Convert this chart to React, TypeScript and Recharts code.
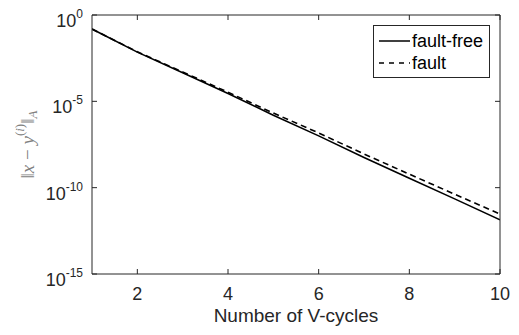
import React from 'react';
import { LineChart, Line, XAxis, YAxis, Legend } from 'recharts';

// Number of V-cycles vs. A-norm of the error
const cycles = [1, 2, 3, 4, 5, 6, 7, 8, 9, 10];
const faultFreeErr = [1.55e-1, 7.08e-3, 4.47e-4, 2.82e-5, 1.58e-6, 1.0e-7, 5.62e-9, 3.55e-10, 2.24e-11, 1.38e-12];
const faultErr = [1.55e-1, 7.41e-3, 5.01e-4, 3.39e-5, 2.09e-6, 1.48e-7, 8.91e-9, 6.03e-10, 4.17e-11, 2.95e-12];

const xTicks = [2, 4, 6, 8, 10];
const yTicks = [1, 1e-5, 1e-10, 1e-15];

const series = [
  { key: 'faultFree', name: 'fault-free', dash: undefined as string | undefined },
  { key: 'fault', name: 'fault', dash: '6 4' },
];

const data = cycles.map((c, i) => ({ cycle: c, faultFree: faultFreeErr[i], fault: faultErr[i] }));

const AXIS = '#262626';

const PowTick = (props: any) => {
  const { x, y, payload } = props;
  const exp = Math.round(Math.log10(payload.value));
  return (
    <text x={x} y={y + 12} textAnchor="end" fill={AXIS} fontSize={18}>
      10<tspan dy={-9} fontSize={12}>{exp}</tspan>
    </text>
  );
};

const NoTick = () => <g />;

const YLabel = (props: any) => {
  const vb = props.viewBox || { x: 0, y: 0, width: 0, height: 0 };
  const cx = vb.x + 27;
  const cy = vb.y + vb.height / 2;
  return (
    <text
      x={cx}
      y={cy}
      transform={`rotate(-90, ${cx}, ${cy})`}
      textAnchor="middle"
      dominantBaseline="central"
      fill="#808080"
      fontSize={19}
      fontFamily="'Liberation Serif', 'DejaVu Serif', serif"
    >
      ‖<tspan fontStyle="italic">x</tspan> − <tspan fontStyle="italic">y</tspan>
      <tspan dy={-8} fontSize={13}>(<tspan fontStyle="italic">i</tspan>)</tspan>
      <tspan dy={8}>‖</tspan>
      <tspan dy={5} fontSize={13} fontStyle="italic">A</tspan>
    </text>
  );
};

const LegendBox = (props: any) => {
  const payload = [...(props.payload || [])].sort(
    (a: any, b: any) => series.findIndex((s) => s.key === a.dataKey) - series.findIndex((s) => s.key === b.dataKey)
  );
  return (
    <div
      style={{
        border: `1px solid ${AXIS}`,
        background: '#fff',
        boxSizing: 'border-box',
        width: '100%',
        height: '100%',
        paddingTop: 4,
      }}
    >
      {payload.map((entry: any) => {
        const s = series.find((d) => d.key === entry.dataKey) || series[0];
        return (
          <div key={s.key} style={{ display: 'flex', alignItems: 'center', height: 22 }}>
            <svg width={38} height={22} style={{ flex: 'none' }}>
              <line x1={5} x2={36} y1={11} y2={11} stroke="#000" strokeWidth={1.5} strokeDasharray={s.dash ? '5 5' : undefined} />
            </svg>
            <span style={{ fontSize: 18, color: '#000', lineHeight: '22px' }}>{s.name}</span>
          </div>
        );
      })}
    </div>
  );
};

export default function App() {
  return (
    <div style={{ width: 519, height: 335, fontFamily: "'Liberation Sans', Arial, sans-serif", background: '#fff' }}>
      <style>{`body{margin:0}`}</style>
      <LineChart width={519} height={335} data={data} margin={{ top: 0, right: 0, bottom: 0, left: 0 }}>
        <XAxis
          dataKey="cycle"
          type="number"
          domain={[1, 10]}
          ticks={xTicks}
          allowDataOverflow
          height={61}
          stroke={AXIS}
          tickSize={-5}
          tickMargin={18}
          tick={{ fontSize: 18, fill: AXIS }}
          label={{ value: 'Number of V-cycles', position: 'insideBottom', offset: 13, fontSize: 19, fill: AXIS }}
        />
        <XAxis
          xAxisId="top"
          orientation="top"
          dataKey="cycle"
          type="number"
          domain={[1, 10]}
          ticks={xTicks}
          allowDataOverflow
          height={15}
          stroke={AXIS}
          tickSize={-5}
          tick={NoTick}
        />
        <YAxis
          scale="log"
          type="number"
          domain={[1e-15, 1]}
          ticks={yTicks}
          allowDataOverflow
          width={92}
          stroke={AXIS}
          tickSize={-5}
          tickMargin={14}
          tick={PowTick}
          label={<YLabel />}
        />
        <YAxis
          yAxisId="right"
          orientation="right"
          scale="log"
          type="number"
          domain={[1e-15, 1]}
          ticks={yTicks}
          allowDataOverflow
          width={19}
          stroke={AXIS}
          tickSize={-5}
          tick={NoTick}
        />
        <Legend
          layout="vertical"
          align="center"
          verticalAlign="middle"
          content={<LegendBox />}
          wrapperStyle={{ left: 373, top: 25, width: 117, height: 53 }}
        />
        {series.map((s) => (
          <Line
            key={s.key}
            type="linear"
            dataKey={s.key}
            name={s.name}
            stroke="#000"
            strokeWidth={1.6}
            strokeDasharray={s.dash}
            dot={false}
            isAnimationActive={false}
          />
        ))}
      </LineChart>
    </div>
  );
}
